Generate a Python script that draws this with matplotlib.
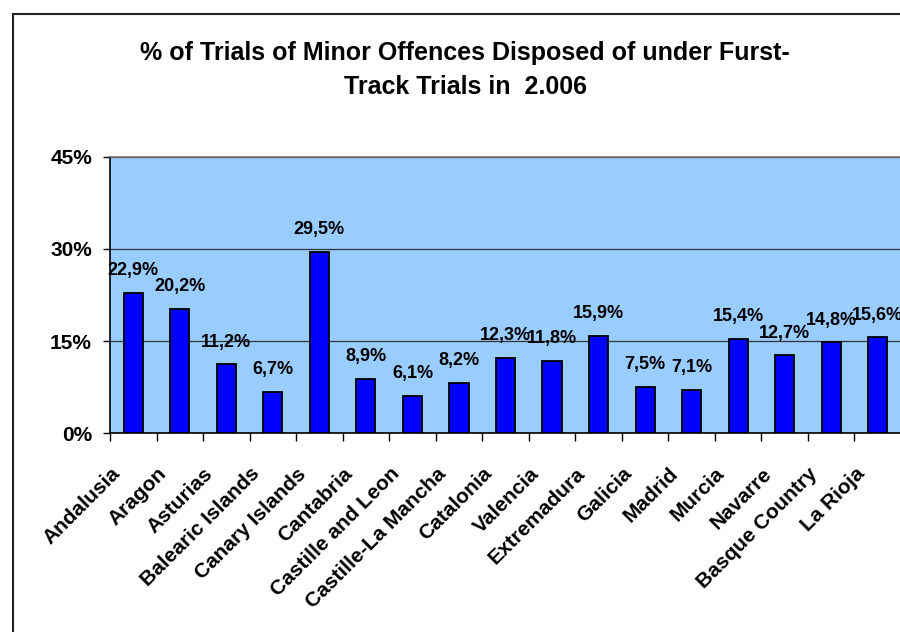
import numpy as np
import matplotlib.pyplot as plt
from matplotlib.patches import Rectangle
from matplotlib.ticker import FixedLocator, NullFormatter
from matplotlib.transforms import ScaledTranslation

regions = ['Andalusia', 'Aragon', 'Asturias', 'Balearic Islands', 'Canary Islands',
           'Cantabria', 'Castille and Leon', 'Castille-La Mancha', 'Catalonia',
           'Valencia', 'Extremadura', 'Galicia', 'Madrid', 'Murcia', 'Navarre',
           'Basque Country', 'La Rioja']
pct = [22.9, 20.2, 11.2, 6.7, 29.5, 8.9, 6.1, 8.2, 12.3, 11.8, 15.9, 7.5, 7.1,
       15.4, 12.7, 14.8, 15.6]
yticks = [0, 15, 30, 45]
title = '% of Trials of Minor Offences Disposed of under Furst-\nTrack Trials in  2.006'

plt.rcParams['font.family'] = ['Liberation Sans', 'DejaVu Sans']
plt.rcParams['font.weight'] = 'bold'

fig = plt.figure(figsize=(9, 6.32), dpi=100)
ax = fig.add_axes([110/900, 1-433.3/632, 791/900, (433.3-156.7)/632])
ax.set_facecolor('#99CCFF')

x = np.arange(len(regions))
ax.bar(x, pct, width=0.41, color='#0000FF', edgecolor='black', linewidth=1.3, zorder=3)

for xi, v in zip(x, pct):
    ax.annotate(('%.1f%%' % v).replace('.', ','), (xi, v), xytext=(0, 16),
                textcoords='offset points', ha='center', va='center',
                fontsize=13, fontweight='bold', zorder=4)

ax.set_xlim(-0.5, len(regions) - 0.5)
ax.set_ylim(0, 45)
ax.set_yticks(yticks)
ax.set_yticklabels(['%d%%' % t for t in yticks], fontsize=15, fontweight='bold')
ax.yaxis.grid(True, color='#333333', linewidth=0.9, zorder=1)

ax.set_xticks(x)
ax.set_xticklabels(regions, rotation=45, ha='right', rotation_mode='anchor',
                   fontsize=15, fontweight='bold')
ax.tick_params(axis='x', length=0, pad=10)
shift = ScaledTranslation(-23/100, -17/100, fig.dpi_scale_trans)
for lab in ax.get_xticklabels():
    lab.set_transform(lab.get_transform() + shift)
ax.xaxis.set_minor_locator(FixedLocator(np.arange(-0.5, len(regions), 1.0)))
ax.xaxis.set_minor_formatter(NullFormatter())
ax.tick_params(axis='x', which='minor', length=6, width=1, color='black')
ax.tick_params(axis='y', length=5, width=1, pad=8)

ax.spines['left'].set_color('black')
ax.spines['bottom'].set_color('black')
ax.spines['left'].set_linewidth(1.2)
ax.spines['bottom'].set_linewidth(1.2)
ax.spines['top'].set_color('#777777')
ax.spines['top'].set_linewidth(1.2)
ax.spines['right'].set_visible(False)

fig.text(465/900, 1-70/632, title, ha='center', va='center', fontsize=18,
         fontweight='bold', linespacing=1.55)

fig.patches.append(Rectangle((12.7/900, -0.1), 1.2, 1.1 - 14/632,
                             transform=fig.transFigure, fill=False,
                             edgecolor='#222222', linewidth=1.5))

fig.savefig('out.png', dpi=100)
